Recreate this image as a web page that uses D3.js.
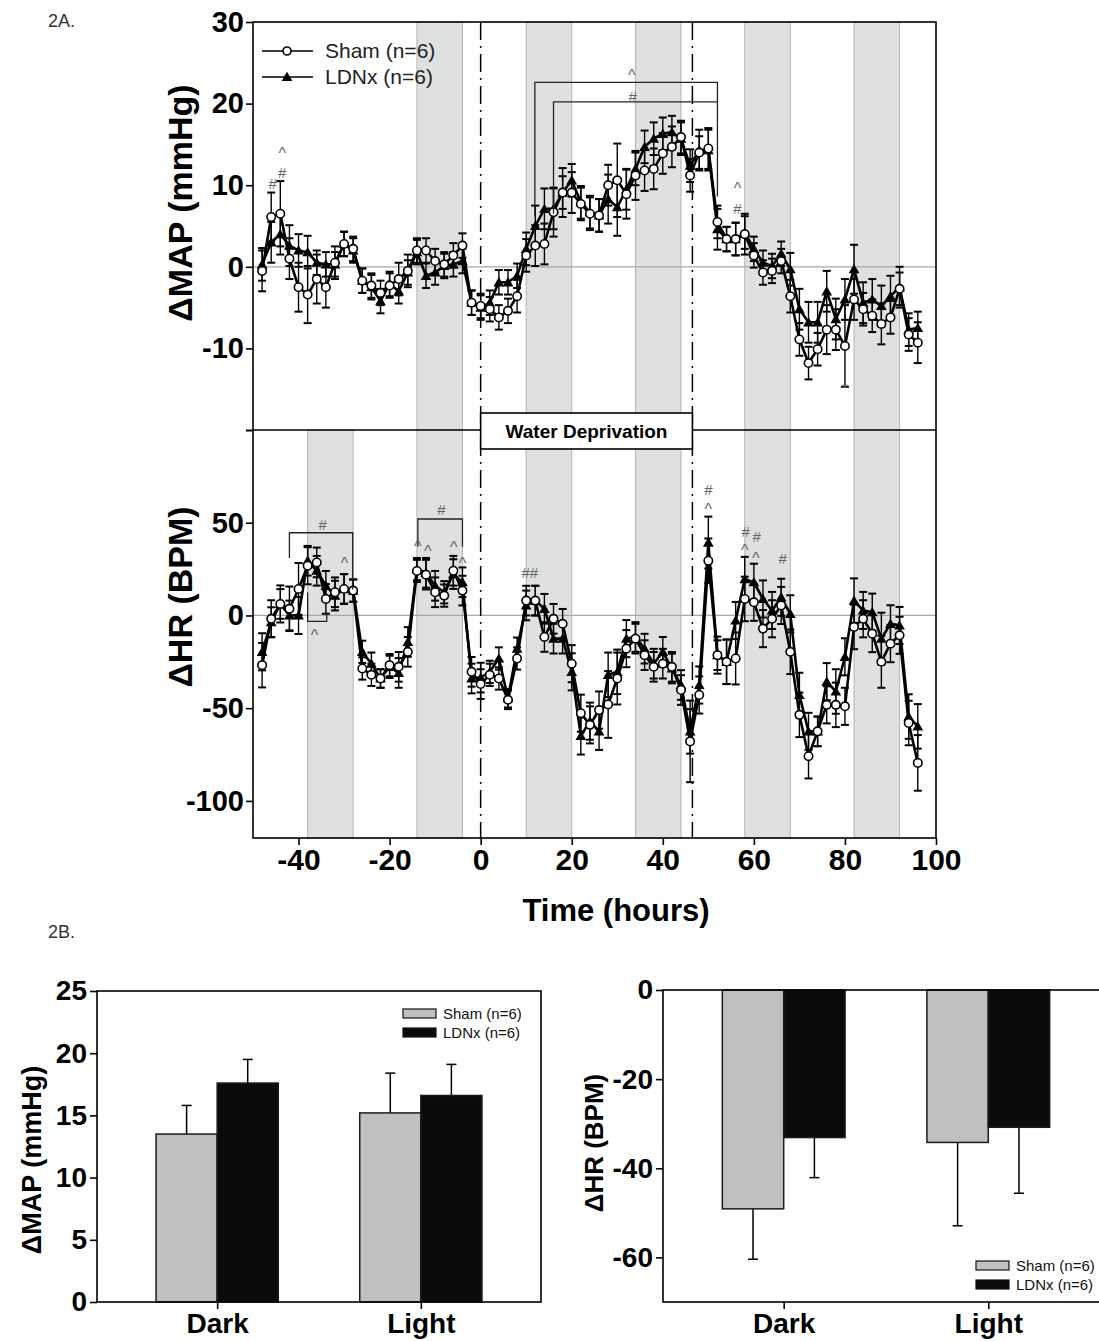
<!DOCTYPE html>
<html>
<head>
<meta charset="utf-8">
<script src="https://cdn.jsdelivr.net/npm/d3@7"></script>
<style>
  body { margin: 0; background: #fff; }
  svg { font-family: Arial, 'Liberation Sans', Helvetica, sans-serif; }
</style>
</head>
<body>
<script>
// Time points (hours) relative to start of water deprivation
var hours = [-48, -46, -44, -42, -40, -38, -36, -34, -32, -30,
  -28, -26, -24, -22, -20, -18, -16, -14, -12, -10,
  -8, -6, -4, -2, 0, 2, 4, 6, 8, 10,
  12, 14, 16, 18, 20, 22, 24, 26, 28, 30,
  32, 34, 36, 38, 40, 42, 44, 46, 48, 50,
  52, 54, 56, 58, 60, 62, 64, 66, 68, 70,
  72, 74, 76, 78, 80, 82, 84, 86, 88, 90,
  92, 94, 96];

// Delta MAP (mmHg)
var mapSham = [-0.5, 6.1, 6.5, 1.0, -2.5, -3.4, -1.5, -2.5, 0.5, 2.8,
  2.2, -1.7, -2.3, -3.2, -2.3, -1.5, -0.5, 2.0, 2.0, 0.7,
  0.3, 1.4, 2.6, -4.4, -4.8, -5.2, -6.2, -5.4, -3.6, 1.4,
  2.6, 2.8, 6.7, 9.1, 9.1, 7.7, 6.5, 6.3, 10.0, 10.6,
  8.9, 11.2, 11.8, 12.0, 13.9, 14.7, 15.9, 11.2, 14.0, 14.5,
  5.5, 3.4, 3.4, 4.0, 1.4, -0.7, -0.5, 0.7, -3.6, -8.9,
  -11.8, -10.1, -7.7, -7.7, -9.7, -4.0, -5.2, -6.0, -7.0, -6.2,
  -2.7, -8.3, -9.3];
var mapShamErr = [2.5, 3, 4, 2.5, 3, 3.5, 3, 2.5, 2, 1.5,
  1.5, 1.5, 1.5, 1.5, 1.5, 2, 2, 1.5, 1.5, 1.5,
  1.5, 1.5, 1.5, 1.5, 1.5, 1.5, 1.5, 1.5, 2, 2,
  2.5, 2.5, 3, 3, 2.5, 2, 2, 2, 2.5, 4.5,
  3, 3, 2.5, 2.5, 2.5, 2.5, 2, 2, 2, 2.5,
  2, 1.5, 2, 2.5, 1.5, 1.5, 1.5, 1.5, 2, 2,
  2, 2, 3, 2.5, 5, 2.5, 2, 2, 2.5, 2,
  2, 2, 2.5];
var mapLdnx = [0.3, 3.0, 4.0, 2.6, 2.0, 1.8, 0.5, 0.3, 0.3, 2.8,
  2.0, -1.7, -2.5, -4.2, -2.1, -3.0, -0.7, 1.8, -1.1, -0.7,
  0.1, 0.3, 0.7, -4.4, -5.0, -4.4, -1.9, -1.9, -1.1, 2.2,
  5.0, 7.1, 7.1, 9.1, 10.6, 7.9, 6.7, 6.3, 8.3, 7.3,
  9.5, 12.0, 14.7, 15.7, 16.3, 16.5, 15.7, 12.4, 14.3, 14.3,
  4.6, 3.4, 3.4, 4.2, 2.2, 0.5, 0.1, 1.6, -0.3, -5.2,
  -6.8, -6.8, -3.0, -6.4, -4.0, -0.3, -4.4, -4.0, -4.8, -3.6,
  -2.5, -7.7, -7.5];
var mapLdnxErr = [2, 2.5, 2.5, 2.5, 2, 2, 1.5, 1.5, 1.5, 1.5,
  1.5, 1.5, 1.5, 1.5, 1.5, 1.5, 1.5, 1.5, 1.5, 1.5,
  1.5, 1.5, 1.5, 1.5, 1.5, 1.5, 1.5, 1.5, 1.5, 2,
  2.5, 2.5, 2.5, 2, 2, 2, 2, 2, 3, 3.5,
  2.5, 2, 2, 2, 2, 2, 2, 2, 2.5, 2.5,
  2.5, 1.5, 2, 2, 1.5, 1.5, 1.5, 1.5, 2, 2.5,
  2.5, 2.5, 2.5, 2.5, 2.5, 3, 2.5, 2.5, 2.5, 2.5,
  2.5, 2, 2];

// Delta HR (BPM)
var hrSham = [-26.8, -1.8, 6.2, 3.6, 14.3, 26.8, 28.6, 8.9, 12.5, 14.3,
  13.4, -28.6, -32, -34, -26.8, -27.7, -19.6, 24, 22, 12.5,
  10.7, 24.1, 13.4, -30.4, -37, -32, -34, -45.5, -23.2, 8,
  8, -11.6, -1.8, -4.5, -26, -52.7, -59, -51, -48, -34,
  -17.9, -12.5, -21.4, -27.7, -26, -27.7, -40.2, -67.9, -42.9, 29.5,
  -21.4, -25, -23.2, 8.9, 7.1, -7.1, -1.8, 5.4, -19.6, -53.6,
  -75.9, -62.5, -48.2, -48.2, -49, -6.2, -1.8, -9.8, -25, -15.2,
  -10.7, -58, -79.5];
var hrShamErr = [12, 10, 10, 12, 14, 10, 8, 8, 8, 8,
  6, 6, 6, 5, 6, 8, 8, 6, 8, 8,
  6, 8, 8, 8, 8, 6, 6, 5, 6, 8,
  8, 8, 8, 8, 10, 10, 10, 10, 18, 14,
  10, 8, 8, 8, 8, 8, 8, 22, 10, 12,
  8, 12, 14, 12, 10, 10, 10, 10, 12, 12,
  12, 8, 10, 12, 10, 12, 10, 10, 14, 10,
  10, 12, 15];
var hrLdnx = [-19.6, -3.6, 6.2, 0, 0, 29.5, 24.1, 16, 10.7, 14.3,
  13.4, -19.6, -26, -34, -27.7, -31, -14.3, 25, 23, 16,
  12.5, 22.3, 17.9, -34, -33.5, -30.4, -23.2, -44.6, -17.9, 5.4,
  8, 3.6, -12.5, -12.5, -30.4, -65, -57, -62.5, -32, -30.4,
  -12.5, -11.6, -17.9, -26, -19.6, -28.6, -37.5, -62.5, -37.5, 39.3,
  -21.4, -25, -2.7, 19.6, 17.9, 8.9, 2.7, 9.8, 0.9, -42.9,
  -62.5, -62.5, -35.7, -41, -22.3, 8, 2.7, 1.8, -12.5, -4.5,
  -5.4, -54.5, -59.8];
var hrLdnxErr = [10, 8, 8, 8, 10, 8, 8, 8, 8, 8,
  6, 6, 6, 5, 6, 8, 8, 6, 8, 8,
  6, 8, 8, 8, 8, 6, 6, 5, 6, 8,
  8, 8, 8, 8, 10, 10, 10, 10, 12, 12,
  10, 8, 8, 8, 8, 8, 8, 12, 10, 14,
  10, 12, 10, 12, 10, 10, 10, 10, 10, 12,
  10, 8, 10, 12, 10, 12, 10, 10, 14, 10,
  10, 12, 12];

// Dark periods (shaded), hours
var mapDark = [[-14, -4], [10, 20], [34, 44], [58, 68], [82, 92]];
var hrDark = [[-38, -28], [-14, -4], [10, 20], [34, 44], [58, 68], [82, 92]];
var waterDep = [0, 46.5];

// significance marks, in data units (text box centres)
var mapNotes = [
  {t: -45.7, v: 10.2, s: '#'}, {t: -43.6, v: 11.5, s: '#'}, {t: -43.6, v: 13.9, s: '^'},
  {t: 33.2, v: 23.4, s: '^'}, {t: 33.4, v: 20.8, s: '#'},
  {t: 56.4, v: 9.6, s: '^'}, {t: 56.4, v: 7.1, s: '#'}, {t: 80, v: -14.8, s: '*'}
];
var mapBrackets = [
  [[11.9, 6.3], [11.9, 22.6], [52, 22.6], [52, 8.6]],
  [[16, 6.5], [16, 20.2], [52, 20.2]]
];
var hrNotes = [
  {t: -34.7, v: 48.8, s: '#'}, {t: -36.5, v: -10.6, s: '^'}, {t: -29.9, v: 28.2, s: '^'},
  {t: -8.6, v: 56.8, s: '#'}, {t: -13.8, v: 37.4, s: '^'}, {t: -11.6, v: 34.7, s: '^'},
  {t: -5.9, v: 36.9, s: '^'}, {t: -4, v: 28.2, s: '^'},
  {t: 10.8, v: 22.9, s: '##'}, {t: 50, v: 67.6, s: '#'}, {t: 50, v: 57.4, s: '^'},
  {t: 58.2, v: 45, s: '#'}, {t: 58, v: 35.3, s: '^'}, {t: 60.6, v: 42.3, s: '#'},
  {t: 60.4, v: 30.9, s: '^'}, {t: 66.3, v: 30.8, s: '#'}
];
var hrBrackets = [
  [[-42, 31], [-42, 44.6], [-28.1, 44.6], [-28.1, 14]],
  [[-38, 12.4], [-38, -3.2], [-33.8, -3.2], [-33.8, 1.6]],
  [[-13.8, 37], [-13.8, 52], [-4, 52], [-4, 37]]
];

// 2B bar charts
var barCats = ['Dark', 'Light'];
var barMapSham = [13.5, 15.2];
var barMapShamErr = [2.3, 3.2];
var barMapLdnx = [17.6, 16.6];
var barMapLdnxErr = [1.9, 2.5];
var barHrSham = [-49.1, -34.2];
var barHrShamErr = [11.3, 18.7];
var barHrLdnx = [-33.1, -30.8];
var barHrLdnxErr = [9.0, 14.8];

var svg = d3.select('body').append('svg')
  .attr('width', 1099)
  .attr('height', 1341);
svg.append('rect').attr('width', 1099).attr('height', 1341).attr('fill', '#fff');

// ---------- 2A: time course ----------
var plot_left = 253, plot_right = 936, plot_top = 22, plot_split = 430, plot_bottom = 838;

var x = d3.scaleLinear().domain([-50, 100]).range([plot_left, plot_right]);
var yMap = d3.scaleLinear().domain([-20, 30]).range([plot_split, plot_top]);
var yHr = d3.scaleLinear().domain([-120, 100]).range([plot_bottom, plot_split]);

function shade(y, bands) {
  svg.append('g').selectAll('rect')
    .data(bands)
    .enter()
    .append('rect')
    .attr('x', function(d) { return x(d[0]); })
    .attr('width', function(d) { return x(d[1]) - x(d[0]); })
    .attr('y', y.range()[1])
    .attr('height', y.range()[0] - y.range()[1])
    .attr('fill', '#dfe0e0')
    .attr('stroke', '#b4b4b4')
    .attr('stroke-width', 1);
  svg.append('line')
    .attr('x1', plot_left).attr('x2', plot_right)
    .attr('y1', y(0)).attr('y2', y(0))
    .attr('stroke', '#a8a8a8').attr('stroke-width', 1.3);
}
shade(yMap, mapDark);
shade(yHr, hrDark);

// dash-dot lines marking water deprivation
svg.append('g').selectAll('line')
  .data(waterDep)
  .enter()
  .append('line')
  .attr('x1', function(d) { return x(d); })
  .attr('x2', function(d) { return x(d); })
  .attr('y1', plot_top).attr('y2', plot_bottom)
  .attr('stroke', '#000').attr('stroke-width', 1.5)
  .attr('stroke-dasharray', '18,6,2,6');

function series(y, vals, errs) {
  var pts = hours.map(function(t, i) { return {t: t, v: vals[i], e: errs[i]}; });
  var eb = svg.append('g').attr('stroke', '#000').attr('stroke-width', 1.4);
  eb.selectAll('line.stem').data(pts).enter().append('line')
    .attr('x1', function(d) { return x(d.t); })
    .attr('x2', function(d) { return x(d.t); })
    .attr('y1', function(d) { return y(d.v - d.e); })
    .attr('y2', function(d) { return y(d.v + d.e); });
  eb.selectAll('line.capt').data(pts).enter().append('line')
    .attr('x1', function(d) { return x(d.t) - 4; })
    .attr('x2', function(d) { return x(d.t) + 4; })
    .attr('y1', function(d) { return y(d.v + d.e); })
    .attr('y2', function(d) { return y(d.v + d.e); })
    .attr('stroke-width', 2);
  eb.selectAll('line.capb').data(pts).enter().append('line')
    .attr('x1', function(d) { return x(d.t) - 4; })
    .attr('x2', function(d) { return x(d.t) + 4; })
    .attr('y1', function(d) { return y(d.v - d.e); })
    .attr('y2', function(d) { return y(d.v - d.e); })
    .attr('stroke-width', 2);
  return pts;
}

function trace(y, pts) {
  svg.append('path')
    .datum(pts)
    .attr('fill', 'none')
    .attr('stroke', '#000')
    .attr('stroke-width', 2.6)
    .attr('d', d3.line().x(function(d) { return x(d.t); }).y(function(d) { return y(d.v); }));
}

function markers(y, pts, kind) {
  var g = svg.append('g');
  if (kind == 'circle') {
    g.selectAll('circle').data(pts).enter().append('circle')
      .attr('cx', function(d) { return x(d.t); })
      .attr('cy', function(d) { return y(d.v); })
      .attr('r', 4.2)
      .attr('fill', '#fff').attr('stroke', '#000').attr('stroke-width', 1.6);
  } else {
    g.selectAll('path').data(pts).enter().append('path')
      .attr('transform', function(d) { return 'translate(' + x(d.t) + ',' + (y(d.v) + 1) + ')'; })
      .attr('d', d3.symbol().type(d3.symbolTriangle).size(50))
      .attr('fill', '#000');
  }
}

var pMapL = series(yMap, mapLdnx, mapLdnxErr);
var pMapS = series(yMap, mapSham, mapShamErr);
var pHrL = series(yHr, hrLdnx, hrLdnxErr);
var pHrS = series(yHr, hrSham, hrShamErr);
trace(yMap, pMapL); trace(yMap, pMapS);
trace(yHr, pHrL); trace(yHr, pHrS);
markers(yMap, pMapL, 'tri'); markers(yMap, pMapS, 'circle');
markers(yHr, pHrL, 'tri'); markers(yHr, pHrS, 'circle');

// significance brackets and marks
function notes(y, list, brackets) {
  svg.append('g').selectAll('path')
    .data(brackets)
    .enter()
    .append('path')
    .attr('fill', 'none')
    .attr('stroke', '#222')
    .attr('stroke-width', 1.3)
    .attr('d', d3.line().x(function(d) { return x(d[0]); }).y(function(d) { return y(d[1]); }));
  svg.append('g').selectAll('text')
    .data(list)
    .enter()
    .append('text')
    .attr('x', function(d) { return x(d.t); })
    .attr('y', function(d) { return y(d.v); })
    .attr('dy', '0.35em')
    .attr('text-anchor', 'middle')
    .attr('fill', '#666')
    .style('font-size', function(d) { return d.s == '^' ? '16px' : '15px'; })
    .text(function(d) { return d.s; });
}
notes(yMap, mapNotes, mapBrackets);
notes(yHr, hrNotes, hrBrackets);

// frame and split line
svg.append('rect')
  .attr('x', plot_left).attr('y', plot_top)
  .attr('width', plot_right - plot_left).attr('height', plot_bottom - plot_top)
  .attr('fill', 'none').attr('stroke', '#000').attr('stroke-width', 1.6);
svg.append('line')
  .attr('x1', plot_left).attr('x2', plot_right)
  .attr('y1', plot_split).attr('y2', plot_split)
  .attr('stroke', '#000').attr('stroke-width', 1.6);

// Water Deprivation label box
svg.append('rect')
  .attr('x', x(waterDep[0])).attr('y', 413)
  .attr('width', x(waterDep[1]) - x(waterDep[0])).attr('height', 36)
  .attr('fill', '#fff').attr('stroke', '#000').attr('stroke-width', 1.6);
svg.append('text')
  .attr('x', (x(waterDep[0]) + x(waterDep[1])) / 2).attr('y', 438)
  .attr('text-anchor', 'middle')
  .style('font-size', '19px').style('font-weight', 'bold')
  .text('Water Deprivation');

// axes
function styleAxis(g, size) {
  g.select('.domain').remove();
  g.selectAll('.tick line').attr('stroke', '#000').attr('stroke-width', 1.6);
  g.selectAll('.tick text')
    .attr('fill', '#000')
    .style('font-size', size + 'px')
    .style('font-weight', 'bold')
    .style('font-family', 'Arial, Liberation Sans, sans-serif');
}
var axMap = svg.append('g').attr('transform', 'translate(' + plot_left + ',0)')
  .call(d3.axisLeft(yMap).tickValues([-20, -10, 0, 10, 20, 30]).tickSize(7).tickPadding(2)
    .tickFormat(function(d) { return d == -20 ? '' : String(d); }));
styleAxis(axMap, 29);
var axHr = svg.append('g').attr('transform', 'translate(' + plot_left + ',0)')
  .call(d3.axisLeft(yHr).tickValues([-100, -50, 0, 50, 100]).tickSize(7).tickPadding(2)
    .tickFormat(function(d) { return d == 100 ? '' : String(d); }));
styleAxis(axHr, 29);
var axX = svg.append('g').attr('transform', 'translate(0,' + plot_bottom + ')')
  .call(d3.axisBottom(x).tickValues([-40, -20, 0, 20, 40, 60, 80, 100]).tickSize(7).tickPadding(4)
    .tickFormat(function(d) { return String(d); }));
styleAxis(axX, 30);

svg.append('text')
  .attr('x', 616).attr('y', 921)
  .attr('text-anchor', 'middle')
  .style('font-size', '31px').style('font-weight', 'bold')
  .text('Time (hours)');
svg.append('text')
  .attr('transform', 'translate(192,203) rotate(-90)')
  .attr('text-anchor', 'middle')
  .style('font-size', '34px').style('font-weight', 'bold')
  .text('ΔMAP (mmHg)');
svg.append('text')
  .attr('transform', 'translate(192,597) rotate(-90)')
  .attr('text-anchor', 'middle')
  .style('font-size', '34px').style('font-weight', 'bold')
  .text('ΔHR (BPM)');

// legend of 2A
var legendKind = ['circle', 'tri'];
var legendText = ['Sham (n=6)', 'LDNx (n=6)'];
legendKind.forEach(function(k, i) {
  var ly = 51 + i * 26;
  svg.append('line').attr('x1', 262).attr('x2', 313).attr('y1', ly).attr('y2', ly)
    .attr('stroke', '#000').attr('stroke-width', 1.6);
  if (k == 'circle') {
    svg.append('circle').attr('cx', 287).attr('cy', ly).attr('r', 4)
      .attr('fill', '#fff').attr('stroke', '#000').attr('stroke-width', 1.6);
  } else {
    svg.append('path').attr('transform', 'translate(287,' + (ly + 1) + ')')
      .attr('d', d3.symbol().type(d3.symbolTriangle).size(50)).attr('fill', '#000');
  }
  svg.append('text').attr('x', 325).attr('y', ly + 7)
    .style('font-size', '21px').attr('fill', '#222')
    .text(legendText[i]);
});

svg.append('text').attr('x', 48).attr('y', 27).style('font-size', '18px').attr('fill', '#333').text('2A.');
svg.append('text').attr('x', 48).attr('y', 938).style('font-size', '18px').attr('fill', '#333').text('2B.');

// ---------- 2B: bar charts ----------
function barLegend(lx, ly) {
  var fills = ['#c0c0c0', '#0a0a0a'];
  fills.forEach(function(f, i) {
    svg.append('rect').attr('x', lx).attr('y', ly + i * 19).attr('width', 33).attr('height', 9)
      .attr('fill', f).attr('stroke', '#111').attr('stroke-width', 1.2);
    svg.append('text').attr('x', lx + 40).attr('y', ly + i * 19 + 10)
      .style('font-size', '15px').attr('fill', '#111')
      .text(legendText[i]);
  });
}

function bars(xs, ys, bw, vals, errs, fill, side) {
  var g = svg.append('g');
  g.selectAll('line.eb').data(vals).enter().append('line')
    .attr('x1', function(d, i) { return xs(barCats[i]) + side * bw / 2; })
    .attr('x2', function(d, i) { return xs(barCats[i]) + side * bw / 2; })
    .attr('y1', function(d) { return ys(d); })
    .attr('y2', function(d, i) { return ys(d + (d < 0 ? -errs[i] : errs[i])); })
    .attr('stroke', '#000').attr('stroke-width', 1.5);
  g.selectAll('line.cap').data(vals).enter().append('line')
    .attr('x1', function(d, i) { return xs(barCats[i]) + side * bw / 2 - 5; })
    .attr('x2', function(d, i) { return xs(barCats[i]) + side * bw / 2 + 5; })
    .attr('y1', function(d, i) { return ys(d + (d < 0 ? -errs[i] : errs[i])); })
    .attr('y2', function(d, i) { return ys(d + (d < 0 ? -errs[i] : errs[i])); })
    .attr('stroke', '#000').attr('stroke-width', 1.5);
  g.selectAll('rect').data(vals).enter().append('rect')
    .attr('x', function(d, i) { return xs(barCats[i]) + (side < 0 ? -bw : 0); })
    .attr('width', bw)
    .attr('y', function(d) { return Math.min(ys(d), ys(0)); })
    .attr('height', function(d) { return Math.abs(ys(d) - ys(0)); })
    .attr('fill', fill).attr('stroke', '#1a1a1a').attr('stroke-width', 1.5);
}

// left: delta MAP
var xb1 = d3.scalePoint().domain(barCats).range([97, 541]).padding(0.59);
var yb1 = d3.scaleLinear().domain([0, 25]).range([1302, 991]);
var bw1 = xb1.step() * 0.3;
bars(xb1, yb1, bw1, barMapSham, barMapShamErr, '#c0c0c0', -1);
bars(xb1, yb1, bw1, barMapLdnx, barMapLdnxErr, '#0a0a0a', 1);
svg.append('rect').attr('x', 97).attr('y', 991).attr('width', 444).attr('height', 311)
  .attr('fill', 'none').attr('stroke', '#000').attr('stroke-width', 1.6);
var ax1 = svg.append('g').attr('transform', 'translate(97,0)')
  .call(d3.axisLeft(yb1).tickValues([0, 5, 10, 15, 20, 25]).tickSize(7).tickPadding(3)
    .tickFormat(function(d) { return String(d); }));
styleAxis(ax1, 28);
var ax1x = svg.append('g').attr('transform', 'translate(0,1302)')
  .call(d3.axisBottom(xb1).tickSize(7).tickPadding(4));
styleAxis(ax1x, 28);
svg.append('text')
  .attr('transform', 'translate(41,1160) rotate(-90)')
  .attr('text-anchor', 'middle')
  .style('font-size', '27px').style('font-weight', 'bold')
  .text('ΔMAP (mmHg)');
barLegend(403, 1009);

// right: delta HR
var xb2 = d3.scalePoint().domain(barCats).range([663, 1109]).padding(0.59);
var yb2 = d3.scaleLinear().domain([-70, 0]).range([1302, 990]);
var bw2 = xb2.step() * 0.3;
bars(xb2, yb2, bw2, barHrSham, barHrShamErr, '#c0c0c0', -1);
bars(xb2, yb2, bw2, barHrLdnx, barHrLdnxErr, '#0a0a0a', 1);
svg.append('rect').attr('x', 663).attr('y', 990).attr('width', 446).attr('height', 312)
  .attr('fill', 'none').attr('stroke', '#000').attr('stroke-width', 1.6);
var ax2 = svg.append('g').attr('transform', 'translate(663,0)')
  .call(d3.axisLeft(yb2).tickValues([-60, -40, -20, 0]).tickSize(7).tickPadding(3)
    .tickFormat(function(d) { return String(d); }));
styleAxis(ax2, 28);
var ax2x = svg.append('g').attr('transform', 'translate(0,1302)')
  .call(d3.axisBottom(xb2).tickSize(7).tickPadding(4));
styleAxis(ax2x, 28);
svg.append('text')
  .attr('transform', 'translate(603,1143) rotate(-90)')
  .attr('text-anchor', 'middle')
  .style('font-size', '26px').style('font-weight', 'bold')
  .text('ΔHR (BPM)');
barLegend(976, 1261);
</script>
</body>
</html>
